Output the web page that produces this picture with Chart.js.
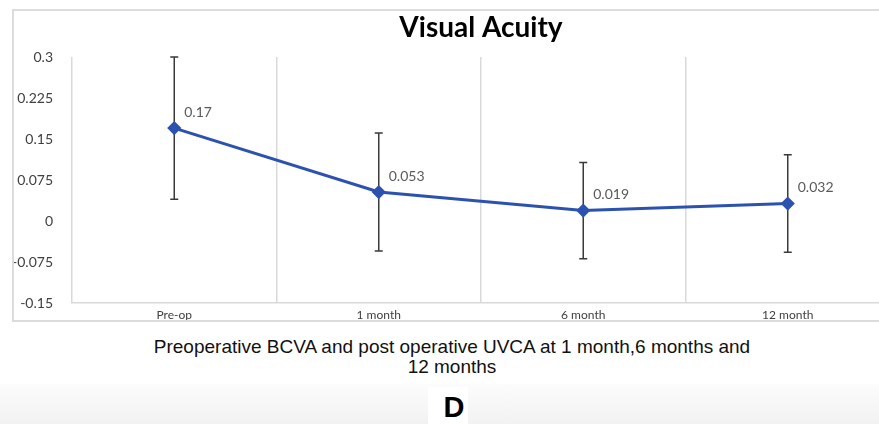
<!DOCTYPE html>
<html>
<head>
<meta charset="utf-8">
<script src="https://cdn.jsdelivr.net/npm/chart.js@4.4.1/dist/chart.umd.min.js"></script>
<style>
  html, body { margin: 0; padding: 0; }
  body { width: 879px; height: 424px; overflow: hidden; position: relative; background: #ffffff; }
  #bottomBg { position: absolute; left: 0; top: 384px; width: 879px; height: 40px;
    background: linear-gradient(to bottom, #fcfcfc 0%, #f2f2f2 100%); }
  #dBox { position: absolute; left: 428px; top: 387px; width: 40px; height: 37px; background: #ffffff; }
  #chartBox { position: absolute; left: 12px; top: 9px; width: 938px; height: 313px;
    box-sizing: border-box; border: 2px solid #dcdcdc; background: #fff; }
  #chartBox canvas { display: block; }
  #caption { position: absolute; left: 60px; width: 784px; top: 337px; text-align: center;
    font-family: "Liberation Sans", Arial, sans-serif; font-size: 19px; line-height: 20px; color: #111; }
  #letter { position: absolute; left: 400px; width: 108px; top: 391px; text-align: center;
    font-family: "Liberation Sans", Arial, sans-serif; font-weight: bold; font-size: 29px; line-height: 32px; color: #000; }
</style>
</head>
<body>
<div id="bottomBg"></div>
<div id="dBox"></div>
<div id="chartBox"><canvas id="c" width="934" height="309"></canvas></div>
<div id="caption">Preoperative BCVA and post operative UVCA at 1 month,6 months and<br>12 months</div>
<div id="letter">D</div>
<script>
const categories = ["Pre-op", "1 month", "6 month", "12 month"];
const meanValues = [0.17, 0.053, 0.019, 0.032];
const errorValues = [0.13, 0.108, 0.088, 0.089];
const yTicks = [-0.15, -0.075, 0, 0.075, 0.15, 0.225, 0.3];
const chartTitle = "Visual Acuity";

const titlePlugin = {
  id: 'centeredTitle',
  afterDraw(chart) {
    const ctx = chart.ctx;
    ctx.save();
    ctx.font = 'bold 28px Lato, "Open Sans", sans-serif';
    ctx.fillStyle = '#000';
    ctx.textAlign = 'center';
    ctx.textBaseline = 'middle';
    ctx.fillText(chartTitle, chart.width / 2, 17);
    ctx.restore();
  }
};

const categoryLabelPlugin = {
  id: 'categoryLabels',
  afterDraw(chart) {
    const ctx = chart.ctx;
    const xs = chart.scales.x;
    ctx.save();
    ctx.font = '12px Lato, "Open Sans", sans-serif';
    ctx.fillStyle = '#404040';
    ctx.textAlign = 'center';
    ctx.textBaseline = 'middle';
    categories.forEach((c, i) => {
      ctx.fillText(c, xs.getPixelForValue(i), chart.chartArea.bottom + 12);
    });
    ctx.restore();
  }
};

const errorBarPlugin = {
  id: 'errorBars',
  beforeDatasetsDraw(chart) {
    const ctx = chart.ctx;
    const xs = chart.scales.x, ys = chart.scales.y;
    ctx.save();
    ctx.strokeStyle = '#3a3a3a';
    ctx.lineWidth = 1.5;
    meanValues.forEach((v, i) => {
      const x = xs.getPixelForValue(i);
      const yTop = ys.getPixelForValue(v + errorValues[i]);
      const yBot = ys.getPixelForValue(v - errorValues[i]);
      ctx.beginPath();
      ctx.moveTo(x, yTop); ctx.lineTo(x, yBot);
      ctx.moveTo(x - 4, yTop); ctx.lineTo(x + 4, yTop);
      ctx.moveTo(x - 4, yBot); ctx.lineTo(x + 4, yBot);
      ctx.stroke();
    });
    ctx.restore();
  }
};

const dataLabelPlugin = {
  id: 'dataLabels',
  afterDatasetsDraw(chart) {
    const ctx = chart.ctx;
    const meta = chart.getDatasetMeta(0);
    ctx.save();
    ctx.font = '14px Lato, "Open Sans", sans-serif';
    ctx.fillStyle = '#595959';
    ctx.textAlign = 'left';
    ctx.textBaseline = 'middle';
    meta.data.forEach((pt, i) => {
      ctx.fillText(String(meanValues[i]), pt.x + 10, pt.y - 16);
    });
    ctx.restore();
  }
};

new Chart(document.getElementById('c'), {
  type: 'line',
  data: {
    labels: categories,
    datasets: [{
      data: meanValues,
      borderColor: '#2C52B0',
      backgroundColor: '#2C52B0',
      borderWidth: 3,
      pointStyle: 'rectRot',
      pointRadius: 5,
      pointHoverRadius: 5,
      pointBackgroundColor: '#2C52B0',
      pointBorderColor: '#2C52B0',
      tension: 0,
      fill: false
    }]
  },
  options: {
    responsive: false,
    animation: false,
    events: [],
    layout: { padding: { left: 0, right: 58, top: 46, bottom: 0 } },
    plugins: {
      legend: { display: false },
      tooltip: { enabled: false },
      title: { display: false }
    },
    scales: {
      x: {
        type: 'category',
        offset: true,
        grid: { display: true, offset: true, color: '#d9d9d9', lineWidth: 1.5, drawTicks: false },
        border: { display: true, color: '#d9d9d9', width: 1.5 },
        ticks: { display: false },
        afterFit(scale) {
          scale.height = 17;
          scale.paddingLeft = 0; scale.paddingRight = 0;
          scale.paddingTop = 0; scale.paddingBottom = 0;
        }
      },
      y: {
        min: yTicks[0],
        max: yTicks[yTicks.length - 1],
        afterBuildTicks(scale) { scale.ticks = yTicks.map(v => ({ value: v })); },
        grid: { display: false, drawTicks: false },
        border: { display: false },
        ticks: {
          color: '#404040',
          font: { family: 'Lato, "Open Sans", sans-serif', size: 14 },
          padding: 19,
          callback: v => String(parseFloat(Number(v).toFixed(3)))
        },
        afterFit(scale) {
          scale.width = 58;
          scale.paddingTop = 0; scale.paddingBottom = 0;
          scale.paddingLeft = 0; scale.paddingRight = 0;
        }
      }
    }
  },
  plugins: [errorBarPlugin, dataLabelPlugin, titlePlugin, categoryLabelPlugin]
});
</script>
</body>
</html>
